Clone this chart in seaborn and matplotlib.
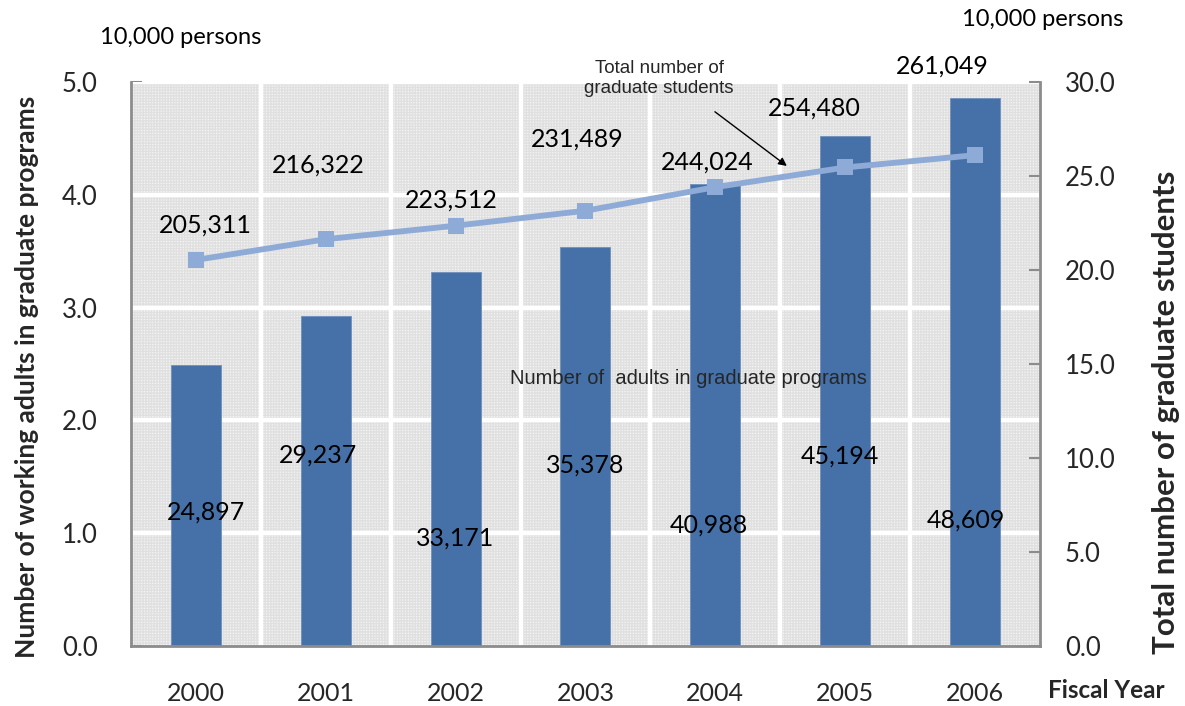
import numpy as np
import pandas as pd
import matplotlib
matplotlib.use("Agg")
import matplotlib.pyplot as plt
from matplotlib.patches import Rectangle
import seaborn as sns

# Fiscal years and enrolment figures (persons)
years = ["2000", "2001", "2002", "2003", "2004", "2005", "2006"]
working_adults = [24897, 29237, 33171, 35378, 40988, 45194, 48609]
total_students = [205311, 216322, 223512, 231489, 244024, 254480, 261049]

# Label placement: (x offset in category units, y in left-axis units)
bar_label_dx = [0.08, -0.06, 0.0, 0.0, -0.05, -0.04, -0.07]
bar_label_y = [1.19, 1.69, 0.96, 1.60, 1.07, 1.68, 1.12]
line_label_dx = [0.07, -0.06, -0.03, -0.06, -0.06, -0.24, -0.25]
line_label_y = [3.73, 4.26, 3.95, 4.49, 4.29, 4.77, 5.14]

df = pd.DataFrame({
    "year": years,
    "adults": np.array(working_adults) / 10000,
    "total": np.array(total_students) / 10000,
})
df["pos"] = np.arange(len(years))

sns.set_theme(style="white")
plt.rcParams["font.family"] = ["Lato", "DejaVu Sans"]

BAR = "#4571a8"
LINE = "#8eaad6"
GRID_BG = "#efefef"
SPINE = "#8c8c8c"

W, H = 1185, 706
fig = plt.figure(figsize=(W / 100, H / 100), dpi=100)
ax = fig.add_axes([0.1105, 0.085, 0.7671, 0.799])

# Fine patterned plot background
ax.set_facecolor(GRID_BG)
bg = Rectangle((0, 0), 1, 1, transform=ax.transAxes, facecolor="#f4f4f4",
               edgecolor="#e0e0e0", hatch="++++++", linewidth=0, zorder=0)
ax.add_patch(bg)

sns.barplot(data=df, x="year", y="adults", color=BAR, width=0.385,
            saturation=1, edgecolor="#6f8fbd", linewidth=0.6, ax=ax, zorder=3)

ax.set_xlim(-0.5, len(years) - 0.5)
ax.set_ylim(0, 5)
ax.set_yticks(np.arange(0, 5.01, 1.0))
ax.set_yticklabels([f"{v:.1f}" for v in np.arange(0, 5.01, 1.0)])

# White grid: horizontal at value ticks, vertical between categories
for yv in np.arange(1, 5.01, 1.0):
    ax.axhline(yv, color="white", lw=3.2, zorder=1)
for xv in np.arange(0.5, len(years) - 0.5, 1.0):
    ax.axvline(xv, color="white", lw=3.2, zorder=1)

for side in ["top", "right"]:
    ax.spines[side].set_visible(False)
for side in ["left", "bottom"]:
    ax.spines[side].set_color(SPINE)
    ax.spines[side].set_linewidth(2)
    ax.spines[side].set_zorder(5)

ax.tick_params(axis="y", direction="in", length=8, width=1.5, color=SPINE,
               labelsize=18.5, pad=24, left=True)
ax.tick_params(axis="x", length=0, labelsize=18, pad=26)
ax.set_xlabel("")
ax.set_ylabel("")

# Right axis: total graduate students
ax2 = ax.twinx()
sns.lineplot(data=df, x="pos", y="total", color=LINE, lw=4.2, marker="s",
             markersize=12, markeredgewidth=0, ax=ax2, zorder=4)
ax2.set_ylim(0, 30)
ax2.set_xlim(-0.5, len(years) - 0.5)
ax2.set_yticks(np.arange(0, 30.01, 5.0))
ax2.set_yticklabels([f"{v:.1f}" for v in np.arange(0, 30.01, 5.0)])
for side in ["top", "left", "bottom"]:
    ax2.spines[side].set_visible(False)
ax2.spines["right"].set_color(SPINE)
ax2.spines["right"].set_linewidth(2)
ax2.tick_params(axis="y", direction="in", length=8, width=1.5, color=SPINE,
                labelsize=18.5, pad=18, right=True)
ax2.set_xlabel("")
ax2.set_ylabel("")

# Axis titles
fig.text(27 / W, 1 - 377 / H, "Number of working adults in graduate programs",
         rotation=90, ha="center", va="center", fontsize=19, fontweight="bold")
fig.text(1166 / W, 1 - 412 / H, "Total number of graduate students",
         rotation=90, ha="center", va="center", fontsize=22.5, fontweight="bold")
fig.text(1106 / W, 1 - 691 / H, "Fiscal Year", ha="center", va="center",
         fontsize=17.5, fontweight="bold")

# Value labels
for i, v in enumerate(working_adults):
    ax2.text(i + bar_label_dx[i], bar_label_y[i] * 6, f"{v:,}", ha="center",
             va="center", fontsize=18, color="black", zorder=6)
for i, v in enumerate(total_students):
    ax2.text(i + line_label_dx[i], line_label_y[i] * 6, f"{v:,}", ha="center",
             va="center", fontsize=18, color="black", zorder=6, clip_on=False)

# Series notes
narrow = ["Liberation Sans", "DejaVu Sans"]
ax2.text(0.613, 0.475, "Number of  adults in graduate programs",
         transform=ax2.transAxes, ha="center", va="center", fontsize=14.5,
         family=narrow, zorder=6)
ax2.text(0.581, 1.006, "Total number of\ngraduate students",
         transform=ax2.transAxes, ha="center", va="center", fontsize=13.5,
         family=narrow, linespacing=1.2, zorder=6)
ax2.annotate("", xy=(0.724, 0.848), xytext=(0.64, 0.95),
             xycoords="axes fraction", textcoords="axes fraction",
             arrowprops=dict(arrowstyle="-|>", color="black", lw=1,
                             mutation_scale=12))

# Unit notes
fig.text(100 / W, 1 - 38 / H, "10,000 persons", ha="left", va="center",
         fontsize=17, color="black")
fig.text(962 / W, 1 - 20 / H, "10,000 persons", ha="left", va="center",
         fontsize=17, color="black")

fig.savefig("out.png", dpi=100)
